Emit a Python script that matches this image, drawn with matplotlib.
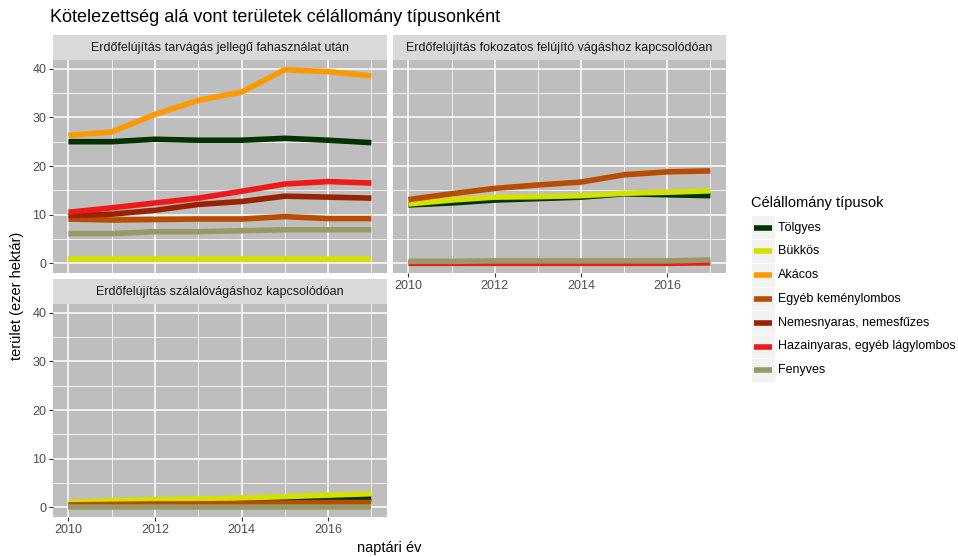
import numpy as np
import matplotlib
matplotlib.use("Agg")
import matplotlib.pyplot as plt
from matplotlib.patches import Rectangle
from matplotlib.ticker import MultipleLocator

plt.rcParams['font.family'] = ['Liberation Sans', 'DejaVu Sans']

W, H = 958, 557

years = [2010, 2011, 2012, 2013, 2014, 2015, 2016, 2017]

types = ["Tölgyes", "Bükkös", "Akácos", "Egyéb keménylombos",
         "Nemesnyaras, nemesfűzes", "Hazainyaras, egyéb lágylombos", "Fenyves"]
colors = ["#003300", "#d4e000", "#ff9900", "#b84c00", "#992200", "#ee1a1a", "#999966"]

panel_titles = ["Erdőfelújítás tarvágás jellegű fahasználat után",
                "Erdőfelújítás fokozatos felújító vágáshoz kapcsolódóan",
                "Erdőfelújítás szálalóvágáshoz kapcsolódóan"]

# ezer hektár, per panel
tarvagas = {
    "Tölgyes": [25.0, 25.0, 25.5, 25.3, 25.3, 25.7, 25.3, 24.8],
    "Bükkös": [0.9, 0.9, 0.9, 0.9, 0.9, 0.9, 0.9, 0.9],
    "Akácos": [26.3, 27.0, 30.6, 33.5, 35.2, 39.8, 39.4, 38.5],
    "Egyéb keménylombos": [9.1, 8.9, 9.0, 9.1, 9.1, 9.6, 9.2, 9.2],
    "Nemesnyaras, nemesfűzes": [9.8, 10.1, 10.9, 12.1, 12.7, 13.8, 13.6, 13.4],
    "Hazainyaras, egyéb lágylombos": [10.5, 11.4, 12.4, 13.4, 14.8, 16.3, 16.8, 16.5],
    "Fenyves": [6.1, 6.1, 6.5, 6.5, 6.7, 6.9, 6.9, 6.9],
}
fokozatos = {
    "Tölgyes": [12.0, 12.4, 13.0, 13.3, 13.6, 14.3, 14.1, 13.9],
    "Bükkös": [12.2, 13.0, 13.6, 13.7, 13.9, 14.4, 14.6, 14.9],
    "Egyéb keménylombos": [13.1, 14.3, 15.4, 16.1, 16.7, 18.2, 18.8, 19.0],
    "Hazainyaras, egyéb lágylombos": [0.0, 0.0, 0.0, 0.0, 0.0, 0.0, 0.0, 0.1],
    "Fenyves": [0.4, 0.4, 0.5, 0.5, 0.5, 0.5, 0.5, 0.7],
}
szalalo = {
    "Tölgyes": [0.5, 0.6, 0.7, 0.8, 0.9, 1.3, 1.6, 1.8],
    "Bükkös": [1.0, 1.4, 1.6, 1.7, 1.9, 2.2, 2.5, 2.8],
    "Egyéb keménylombos": [0.5, 0.6, 0.7, 0.7, 0.8, 0.9, 1.0, 1.0],
    "Fenyves": [0.1, 0.1, 0.1, 0.1, 0.1, 0.1, 0.1, 0.1],
}

fig = plt.figure(figsize=(W / 100, H / 100), dpi=100)


def px_axes(x0, y0, x1, y1):
    return fig.add_axes([x0 / W, 1 - y1 / H, (x1 - x0) / W, (y1 - y0) / H])


def panel(box, data, title, show_x, show_y):
    x0, y0, x1, y1 = box
    ax = px_axes(x0, y0, x1, y1)
    ax.set_facecolor("#bebebe")
    for s in ax.spines.values():
        s.set_visible(False)
    ax.set_xlim(2010 - 0.35, 2017 + 0.35)
    ax.set_ylim(-1.99, 41.79)
    ax.xaxis.set_major_locator(MultipleLocator(2))
    ax.xaxis.set_minor_locator(MultipleLocator(1))
    ax.yaxis.set_major_locator(MultipleLocator(10))
    ax.yaxis.set_minor_locator(MultipleLocator(5))
    ax.grid(True, which="major", color="white", lw=1.1)
    ax.grid(True, which="minor", color="white", lw=0.55)
    ax.set_axisbelow(True)
    ax.tick_params(which="minor", length=0)
    ax.tick_params(which="major", length=3, width=0.8, color="#333333",
                   labelsize=9, labelcolor="#4d4d4d", pad=2)
    if not show_x:
        ax.tick_params(axis="x", which="major", length=0, labelbottom=False)
    if not show_y:
        ax.tick_params(axis="y", which="major", length=0, labelleft=False)
    for t, c in zip(types, colors):
        if t in data:
            ax.plot(years, data[t], color=c, lw=4, solid_capstyle="butt")
    st = px_axes(x0, y0 - 25, x1, y0)
    st.set_facecolor("#d9d9d9")
    st.set_xticks([])
    st.set_yticks([])
    for s in st.spines.values():
        s.set_visible(False)
    st.text(0.5, 0.5, title, ha="center", va="center", fontsize=9, color="#1a1a1a",
            transform=st.transAxes)
    return ax


panel((53.3, 60, 386.5, 273), tarvagas, panel_titles[0], False, True)
panel((393.3, 60, 725.5, 273), fokozatos, panel_titles[1], True, False)
panel((53.3, 304, 386.5, 517), szalalo, panel_titles[2], True, True)

fig.text(50 / W, 1 - 18 / H, "Kötelezettség alá vont területek célállomány típusonként",
         fontsize=13, ha="left", va="center", color="black")
fig.text(389 / W, 1 - 548 / H, "naptári év", fontsize=10.5, ha="center", va="center")
fig.text(17 / W, 1 - 296 / H, "terület (ezer hektár)", fontsize=10.5, ha="center",
         va="center", rotation=90)

# legend
lg = px_axes(740, 180, 958, 400)
lg.set_xlim(740, 958)
lg.set_ylim(400, 180)
lg.axis("off")
lg.text(751, 203, "Célállomány típusok", fontsize=10.5, ha="left", va="center")
for i, (t, c) in enumerate(zip(types, colors)):
    yc = 227.5 + 23.8 * i
    lg.add_patch(Rectangle((752, yc - 11.4), 23, 22.8, facecolor="#f2f2f2", edgecolor="none"))
    lg.plot([753.5, 772], [yc, yc], color=c, lw=4, solid_capstyle="butt")
    lg.text(778, yc, t, fontsize=9, ha="left", va="center", color="black")

fig.savefig("out.png", dpi=100)
